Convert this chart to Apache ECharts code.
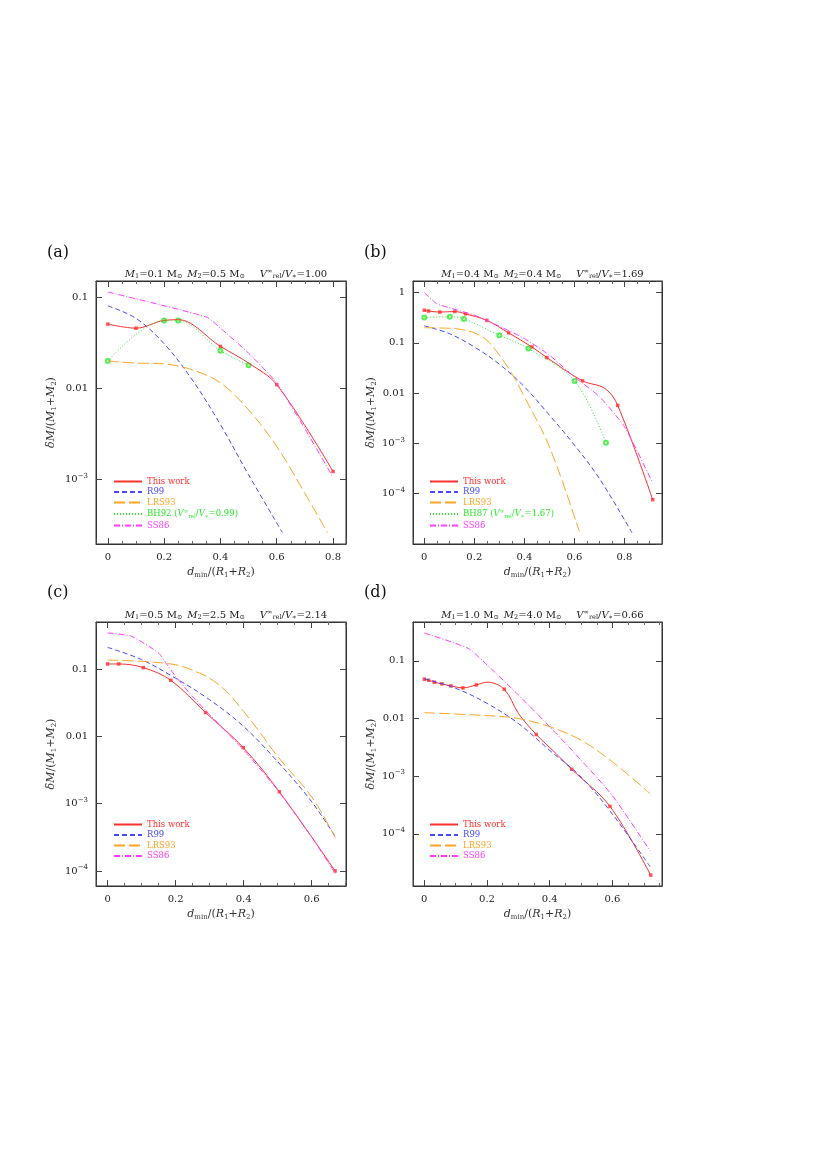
<!DOCTYPE html>
<html><head><meta charset="utf-8">
<script src="https://cdn.jsdelivr.net/npm/echarts@6/dist/echarts.min.js"></script>
<style>html,body{margin:0;padding:0;background:#fff}#c{width:828px;height:1170px}</style>
</head><body><div id="c"></div>
<script>
// ---------- data ----------
const xTicks = [0, 0.2, 0.4, 0.6, 0.8];
// panel (a)
const a_this = [[0,0.051],[0.1,0.046],[0.2,0.056],[0.25,0.057],[0.4,0.029],[0.5,0.019],[0.6,0.011],[0.8,0.00122]];
const a_thisUnmarked = [0.25,0.5];
const a_r99 = [[0,0.081],[0.1,0.059],[0.2,0.031],[0.3,0.0124],[0.4,0.004],[0.5,0.00112],[0.62,0.00026]];
const a_lrs = [[0,0.02],[0.1,0.019],[0.2,0.0186],[0.3,0.016],[0.4,0.0115],[0.5,0.0058],[0.6,0.0023],[0.7,0.0007],[0.78,0.00026]];
const a_bh = [[0,0.02],[0.2,0.056],[0.25,0.056],[0.4,0.026],[0.5,0.018]];
const a_ss = [[0,0.115],[0.35,0.061],[0.4,0.046],[0.5,0.0244],[0.6,0.0114],[0.7,0.0036],[0.8,0.00105]];
// panel (b)
const b_this = [[0,0.445],[0.017,0.43],[0.062,0.41],[0.122,0.42],[0.165,0.377],[0.25,0.28],[0.337,0.158],[0.43,0.083],[0.49,0.051],[0.632,0.0176],[0.722,0.0124],[0.773,0.0057],[0.913,0.000076]];
const b_thisUnmarked = [0.722];
const b_r99 = [[0,0.218],[0.1,0.153],[0.2,0.083],[0.3,0.0377],[0.4,0.0134],[0.5,0.00366],[0.6,0.00093],[0.7,0.0002],[0.83,0.0000168]];
const b_lrs = [[0,0.2],[0.1,0.195],[0.15,0.184],[0.2,0.158],[0.25,0.113],[0.3,0.057],[0.35,0.0246],[0.4,0.0085],[0.5,0.00086],[0.62,0.0000176]];
const b_bh = [[0,0.32],[0.102,0.33],[0.158,0.30],[0.3,0.142],[0.416,0.077],[0.601,0.0174],[0.726,0.00103]];
const b_ss = [[0,1.0],[0.05,0.6],[0.1,0.5],[0.2,0.355],[0.3,0.214],[0.4,0.122],[0.5,0.057],[0.6,0.021],[0.7,0.0085],[0.8,0.00214],[0.91,0.000174]];
// panel (c)
const c_this = [[0,0.119],[0.033,0.119],[0.105,0.105],[0.186,0.068],[0.288,0.0226],[0.399,0.0068],[0.505,0.0015],[0.669,0.0001]];
const c_r99 = [[0,0.21],[0.1,0.138],[0.2,0.073],[0.3,0.035],[0.4,0.014],[0.5,0.0042],[0.6,0.00107],[0.67,0.00032]];
const c_lrs = [[0,0.136],[0.1,0.13],[0.2,0.116],[0.25,0.096],[0.3,0.073],[0.35,0.046],[0.4,0.0234],[0.45,0.0111],[0.5,0.005],[0.6,0.00126],[0.67,0.00031]];
const c_ss = [[0,0.344],[0.07,0.307],[0.15,0.173],[0.17,0.126],[0.2,0.078],[0.25,0.039],[0.3,0.021],[0.4,0.0063],[0.5,0.00159],[0.6,0.00032],[0.67,0.000091]];
// panel (d)
const d_this = [[0,0.048],[0.014,0.046],[0.032,0.0425],[0.056,0.0398],[0.085,0.0367],[0.123,0.0339],[0.166,0.0382],[0.2,0.0426],[0.255,0.0321],[0.3,0.0123],[0.357,0.00528],[0.42,0.00247],[0.47,0.00132],[0.592,0.0003],[0.722,0.0000193]];
const d_thisUnmarked = [0.2,0.3,0.42];
const d_r99 = [[0,0.049],[0.1,0.0334],[0.2,0.0183],[0.3,0.0082],[0.4,0.0028],[0.5,0.00097],[0.6,0.00022],[0.72,0.000027]];
const d_lrs = [[0,0.0126],[0.2,0.0112],[0.3,0.01],[0.4,0.0072],[0.5,0.0042],[0.6,0.00177],[0.72,0.0005]];
const d_ss = [[0,0.303],[0.14,0.164],[0.2,0.085],[0.3,0.0256],[0.4,0.0072],[0.5,0.0019],[0.6,0.00046],[0.72,0.000051]];

// ---------- styling ----------
const FONT = 'DejaVu Serif';
const COL = {this:'#ff3030', r99:'#4848ff', lrs:'#ffa424', bh:'#2ee82e', ss:'#ff3cff'};
const DASH = {this:'solid', r99:[5,3], lrs:[11,4], bh:[1,2], ss:[6,2,1,2]};
const rich = {
  t:{fontFamily:FONT,fontSize:8.5,fontWeight:'normal'},
  i:{fontFamily:FONT,fontSize:8.5,fontStyle:'italic',fontWeight:'normal'},
  s:{fontFamily:FONT,fontSize:5.5,fontWeight:'normal',padding:[5,0,0,0]},
  p:{fontFamily:FONT,fontSize:5.5,fontWeight:'normal',padding:[0,0,5,0]}
};
const names = {this:'This work', r99:'R99', lrs:'LRS93', ss:'SS86'};

const panels = [
  {lab:'(a)', g:{left:96,top:281,width:250,height:263}, x:[-0.042,0.846], y:[1.94e-4,0.152],
   title:'{i|M}{s|1}{t|=0.1 M}{s|⊙} {i|M}{s|2}{t|=0.5 M}{s|⊙}   {i|V}{p|∞}{s|rel}{t|/}{i|V}{s|∗}{t|=1.00}',
   ser:{this:a_this, r99:a_r99, lrs:a_lrs, bh:a_bh, ss:a_ss}, unm:a_thisUnmarked,
   bh:'BH92 ({i|V}{p|∞}{s|rel}{t|/}{i|V}{s|∗}{t|=0.99)}', leg:{left:108,top:472}},
  {lab:'(b)', g:{left:413,top:281,width:249,height:263}, x:[-0.045,0.95], y:[1e-5,1.7],
   title:'{i|M}{s|1}{t|=0.4 M}{s|⊙} {i|M}{s|2}{t|=0.4 M}{s|⊙}   {i|V}{p|∞}{s|rel}{t|/}{i|V}{s|∗}{t|=1.69}',
   ser:{this:b_this, r99:b_r99, lrs:b_lrs, bh:b_bh, ss:b_ss}, unm:b_thisUnmarked,
   bh:'BH87 ({i|V}{p|∞}{s|rel}{t|/}{i|V}{s|∗}{t|=1.67)}', leg:{left:424,top:472}},
  {lab:'(c)', g:{left:96,top:622,width:250,height:264}, x:[-0.034,0.701], y:[5.97e-5,0.5],
   title:'{i|M}{s|1}{t|=0.5 M}{s|⊙} {i|M}{s|2}{t|=2.5 M}{s|⊙}   {i|V}{p|∞}{s|rel}{t|/}{i|V}{s|∗}{t|=2.14}',
   ser:{this:c_this, r99:c_r99, lrs:c_lrs, ss:c_ss}, unm:[], leg:{left:108,top:815}},
  {lab:'(d)', g:{left:413,top:622,width:249,height:264}, x:[-0.036,0.758], y:[1.25e-5,0.47],
   title:'{i|M}{s|1}{t|=1.0 M}{s|⊙} {i|M}{s|2}{t|=4.0 M}{s|⊙}   {i|V}{p|∞}{s|rel}{t|/}{i|V}{s|∗}{t|=0.66}',
   ser:{this:d_this, r99:d_r99, lrs:d_lrs, ss:d_ss}, unm:d_thisUnmarked, leg:{left:424,top:815}}
];

function yFmt(v){
  const e = Math.log10(v), r = Math.round(e);
  if (Math.abs(e-r) > 1e-6) return '';
  if (r === 0) return '{n|1}';
  if (r === -1) return '{n|0.1}';
  if (r === -2) return '{n|0.01}';
  return '{n|10}{q|−' + (-r) + '}';
}
const yRich = {n:{fontFamily:FONT,fontSize:10,color:'#222'}, q:{fontFamily:FONT,fontSize:7,color:'#222',padding:[0,0,7,0]}};

const opt = {animation:false, backgroundColor:'#fff', grid:[], xAxis:[], yAxis:[], series:[], title:[], legend:[], graphic:[]};
panels.forEach((P, k) => {
  opt.grid.push(Object.assign({containLabel:false, show:true, borderColor:'#333', borderWidth:1, backgroundColor:'transparent'}, P.g));
  const axLine = {show:true, onZero:false, lineStyle:{color:'#333', width:1}};
  const xBase = {type:'value', gridIndex:k, min:P.x[0], max:P.x[1], splitNumber:4,
    axisLine:axLine, splitLine:{show:false},
    axisTick:{inside:true, length:6, lineStyle:{color:'#444'}},
    minorTick:{show:true, splitNumber:4, length:3, lineStyle:{color:'#666'}}};
  opt.xAxis.push(Object.assign({}, xBase, {position:'bottom',
    axisLabel:{fontFamily:FONT, fontSize:10, color:'#222', margin:8, showMinLabel:false, showMaxLabel:false,
      formatter: v => xTicks.some(t => Math.abs(t-v) < 1e-9) ? String(v) : ''},
    name:'{i|d}{s|min}{t|/(}{i|R}{s|1}{t|+}{i|R}{s|2}{t|)}', nameLocation:'middle', nameGap:22,
    nameTextStyle:{rich:{t:{fontFamily:FONT,fontSize:11},i:{fontFamily:FONT,fontSize:11,fontStyle:'italic'},s:{fontFamily:FONT,fontSize:7,padding:[6,0,0,0]}}}}));
  opt.xAxis.push(Object.assign({}, xBase, {position:'top', axisLabel:{show:false}}));
  const yBase = {type:'log', logBase:10, gridIndex:k, min:P.y[0], max:P.y[1],
    axisLine:axLine, splitLine:{show:false},
    axisTick:{inside:true, length:6, lineStyle:{color:'#444'}}};
  opt.yAxis.push(Object.assign({}, yBase, {position:'left',
    axisLabel:{formatter:yFmt, rich:yRich, margin:8, showMinLabel:false, showMaxLabel:false},
    name:'{i|δM}{t|/(}{i|M}{s|1}{t|+}{i|M}{s|2}{t|)}', nameLocation:'middle', nameRotate:90, nameGap:k%2===0?38:35,
    nameTextStyle:{rich:{t:{fontFamily:FONT,fontSize:11},i:{fontFamily:FONT,fontSize:11,fontStyle:'italic'},s:{fontFamily:FONT,fontSize:7,padding:[6,0,0,0]}}}}));
  opt.yAxis.push(Object.assign({}, yBase, {position:'right', axisLabel:{show:false}}));

  const xi = 2*k, yi = 2*k;
  const legData = [];
  Object.keys(P.ser).forEach(key => {
    const nm = key === 'bh' ? ('BH' + k) : (names[key] + '#' + k);
    opt.series.push({type:'line', name:nm, xAxisIndex:xi, yAxisIndex:yi, data:P.ser[key],
      smooth:key==='ss' ? 0.2 : 0.35, symbol:'none', clip:true,
      lineStyle:{color:COL[key], width:1, type:DASH[key]}, itemStyle:{color:COL[key]}});
    legData.push({name:nm, textStyle:{color:COL[key]}});
    if (key === 'this') {
      opt.series.push({type:'scatter', name:'m'+k, xAxisIndex:xi, yAxisIndex:yi, symbol:'rect', symbolSize:3.5,
        data:P.ser[key].filter(p => !P.unm.includes(p[0])), itemStyle:{color:COL.this}, silent:true});
    }
    if (key === 'bh') {
      opt.series.push({type:'scatter', name:'g'+k, xAxisIndex:xi, yAxisIndex:yi, symbol:'emptyCircle', symbolSize:4,
        data:P.ser[key], itemStyle:{color:COL.bh, borderWidth:1}, silent:true});
    }
  });
  const bhLabel = P.bh;
  opt.legend.push({orient:'vertical', left:P.leg.left, top:P.leg.top, itemGap:1.5, itemWidth:28, itemHeight:9,
    data:legData, selectedMode:false, itemStyle:{opacity:0},
    formatter: n => n.startsWith('BH') ? bhLabel.replace(/^BH(\d\d) \(/, '{t|BH$1 (}') : '{t|' + n.split('#')[0] + '}',
    textStyle:{fontFamily:FONT, fontSize:8.5, rich:rich}});
  opt.title.push({text:P.title, left:P.g.left + P.g.width/2, top:P.g.top - 21, textAlign:'center',
    textStyle:{color:'#222', fontWeight:'normal', rich:{t:{fontFamily:FONT,fontSize:10,fontWeight:'normal',color:'#222'},i:{fontFamily:FONT,fontSize:10,fontStyle:'italic',fontWeight:'normal',color:'#222'},
      s:{fontFamily:FONT,fontSize:6.5,fontWeight:'normal',color:'#222',padding:[5,0,0,0]},p:{fontFamily:FONT,fontSize:6.5,fontWeight:'normal',color:'#222',padding:[0,0,5,0]}}}});
  opt.graphic.push({type:'text', left:k%2===0?47:364, top:k<2?245:585,
    style:{text:P.lab, font:'16px "DejaVu Serif"', fill:'#111'}});
});
const chart = echarts.init(document.getElementById('c'), null, {renderer:'canvas'});
chart.setOption(opt);
</script></body></html>
